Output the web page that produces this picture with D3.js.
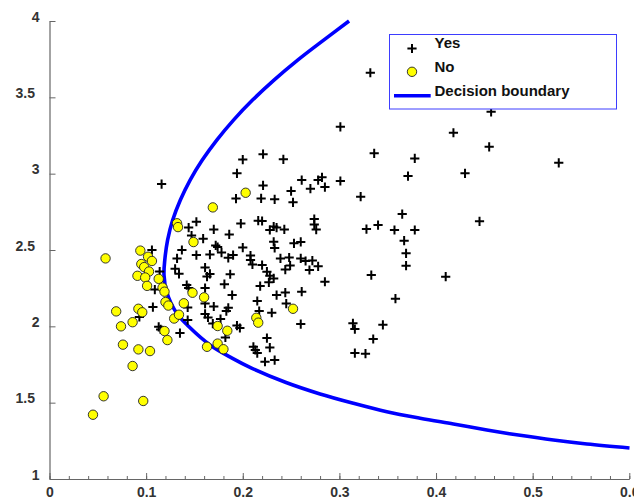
<!DOCTYPE html>
<html>
<head>
<meta charset="utf-8">
<script src="https://cdn.jsdelivr.net/npm/d3@7"></script>
<style>
  html, body { margin: 0; padding: 0; background: #fff; }
  svg { display: block; font-family: "Liberation Sans", Arial, sans-serif; }
</style>
</head>
<body>
<div id="chart"></div>
<script>
// scatter of the two classes with the fitted decision boundary

// "Yes" points (plus markers)
const yesX = [0.332, 0.301, 0.418, 0.455, 0.457, 0.527, 0.336, 0.378, 0.371, 0.430,
  0.322, 0.365, 0.328, 0.340, 0.357, 0.378, 0.367, 0.369, 0.369, 0.445,
  0.410, 0.333, 0.358, 0.314, 0.316, 0.345, 0.335, 0.316, 0.327, 0.285,
  0.116, 0.200, 0.221, 0.242, 0.194, 0.221, 0.261, 0.270, 0.278, 0.282,
  0.285, 0.301, 0.193, 0.219, 0.233, 0.250, 0.252, 0.152, 0.144, 0.147,
  0.159, 0.170, 0.172, 0.174, 0.186, 0.198, 0.200, 0.216, 0.220, 0.228,
  0.232, 0.235, 0.243, 0.274, 0.274, 0.276, 0.232, 0.233, 0.253, 0.260,
  0.106, 0.137, 0.132, 0.152, 0.166, 0.178, 0.185, 0.190, 0.208, 0.208,
  0.210, 0.220, 0.239, 0.248, 0.249, 0.244, 0.260, 0.265, 0.272, 0.278,
  0.269, 0.114, 0.130, 0.134, 0.161, 0.163, 0.166, 0.187, 0.225, 0.228,
  0.232, 0.227, 0.181, 0.218, 0.142, 0.144, 0.109, 0.189, 0.161, 0.161,
  0.170, 0.185, 0.183, 0.161, 0.164, 0.177, 0.169, 0.194, 0.197, 0.182,
  0.215, 0.217, 0.230, 0.235, 0.244, 0.245, 0.261, 0.260, 0.107, 0.093,
  0.113, 0.115, 0.135, 0.143, 0.143, 0.211, 0.213, 0.215, 0.225, 0.228,
  0.223, 0.233];
const yesY = [3.661, 3.307, 3.268, 3.176, 3.405, 3.071, 3.133, 3.100, 2.984, 3.002,
  2.849, 2.735, 2.637, 2.663, 2.631, 2.631, 2.561, 2.478, 2.397, 2.688,
  2.325, 2.336, 2.181, 2.020, 1.982, 2.010, 1.917, 1.825, 1.821, 2.292,
  2.932, 3.092, 3.128, 3.094, 3.002, 2.923, 2.958, 2.902, 2.958, 2.976,
  2.912, 2.952, 2.837, 2.838, 2.832, 2.886, 2.812, 2.685, 2.647, 2.595,
  2.574, 2.635, 2.530, 2.519, 2.602, 2.673, 2.516, 2.692, 2.690, 2.631,
  2.654, 2.647, 2.635, 2.703, 2.667, 2.634, 2.554, 2.513, 2.544, 2.553,
  2.500, 2.500, 2.445, 2.467, 2.470, 2.483, 2.449, 2.467, 2.464, 2.434,
  2.405, 2.401, 2.445, 2.451, 2.398, 2.372, 2.445, 2.428, 2.431, 2.393,
  2.369, 2.359, 2.377, 2.344, 2.385, 2.326, 2.343, 2.341, 2.358, 2.331,
  2.314, 2.288, 2.276, 2.264, 2.270, 2.251, 2.241, 2.205, 2.251, 2.149,
  2.130, 2.121, 2.100, 2.081, 2.058, 2.048, 2.018, 2.005, 1.989, 1.927,
  2.166, 2.100, 2.089, 2.205, 2.221, 2.149, 2.227, 2.015, 2.126, 2.061,
  1.997, 1.980, 1.956, 2.124, 2.041, 1.866, 1.845, 1.825, 1.923, 1.861,
  1.768, 1.779];

// "No" points (yellow circles)
const noX = [0.058, 0.094, 0.102, 0.106, 0.095, 0.098, 0.103, 0.091, 0.099, 0.113,
  0.101, 0.117, 0.119, 0.148, 0.160, 0.120, 0.123, 0.139, 0.069, 0.092,
  0.096, 0.129, 0.134, 0.086, 0.074, 0.119, 0.122, 0.174, 0.184, 0.214,
  0.216, 0.252, 0.076, 0.092, 0.104, 0.163, 0.174, 0.180, 0.086, 0.056,
  0.097, 0.045, 0.132, 0.133, 0.149, 0.169, 0.203];
const noY = [2.445, 2.496, 2.456, 2.428, 2.408, 2.388, 2.359, 2.331, 2.320, 2.311,
  2.265, 2.254, 2.227, 2.220, 2.190, 2.159, 2.136, 2.151, 2.098, 2.115,
  2.092, 2.051, 2.076, 2.027, 2.000, 1.969, 1.910, 2.002, 1.971, 2.056,
  2.024, 2.115, 1.880, 1.849, 1.838, 1.866, 1.887, 1.850, 1.740, 1.542,
  1.511, 1.421, 2.675, 2.650, 2.552, 2.779, 2.875];

// decision boundary, read along the curve from the top end to the bottom right
const boundaryX = [0.310, 0.2837, 0.2568, 0.2323, 0.2101, 0.1904, 0.1731, 0.1581, 0.1455, 0.1354,
  0.1275, 0.1222, 0.1193, 0.1185, 0.1213, 0.1317, 0.1444, 0.1661, 0.1889, 0.2096,
  0.2448, 0.2800, 0.3145, 0.3491, 0.3835, 0.4180, 0.4526, 0.4870, 0.5215, 0.5561, 0.6002];
const boundaryY = [4.000, 3.875, 3.744, 3.613, 3.482, 3.351, 3.220, 3.089, 2.958, 2.827,
  2.696, 2.565, 2.434, 2.336, 2.225, 2.085, 1.997, 1.878, 1.792, 1.725,
  1.632, 1.557, 1.496, 1.441, 1.398, 1.360, 1.321, 1.286, 1.255, 1.229, 1.203];

const xTicks = [0, 0.1, 0.2, 0.3, 0.4, 0.5, 0.6];
const xTickLabels = ["0", "0.1", "0.2", "0.3", "0.4", "0.5", "0.6"];
const yTicks = [1, 1.5, 2, 2.5, 3, 3.5, 4];
const yTickLabels = ["1", "1.5", "2", "2.5", "3", "3.5", "4"];
const legendLabels = ["Yes", "No", "Decision boundary"];

// dimensions
const width = 634, height = 499;
const plotLeft = 49.5, plotRight = 629.3, plotTop = 21, plotBottom = 479;

const svg = d3.select("#chart")
  .append("svg")
    .attr("width", width)
    .attr("height", height);

const x = d3.scaleLinear().domain([0, 0.6]).range([plotLeft, plotRight]);
const y = d3.scaleLinear().domain([1, 4]).range([plotBottom, plotTop]);

const axisColour = "#666";
const labelColour = "#333";

// minor ticks on x (every 0.02)
svg.append("g")
  .attr("transform", `translate(0,${plotBottom})`)
  .call(d3.axisBottom(x)
    .tickValues(d3.range(0, 0.601, 0.02))
    .tickSizeInner(-3)
    .tickSizeOuter(0)
    .tickFormat(""))
  .call(g => g.select(".domain").remove())
  .selectAll("line").attr("stroke", axisColour);

// x axis
const xAxis = svg.append("g")
  .attr("transform", `translate(0,${plotBottom})`)
  .call(d3.axisBottom(x)
    .tickValues(xTicks)
    .tickSizeInner(-6)
    .tickSizeOuter(0)
    .tickPadding(8)
    .tickFormat((d, i) => xTickLabels[i]));

// y axis
const yAxis = svg.append("g")
  .attr("transform", `translate(${plotLeft},0)`)
  .call(d3.axisLeft(y)
    .tickValues(yTicks)
    .tickSizeInner(-6)
    .tickSizeOuter(0)
    .tickPadding(10)
    .tickFormat((d, i) => yTickLabels[i]));

// labels sit a little above their ticks; decimal ones end a bit further left
yAxis.selectAll("text")
  .attr("dy", "0.02em")
  .attr("dx", (d, i) => yTickLabels[i].includes(".") ? -4.5 : 0);

[xAxis, yAxis].forEach(a => {
  a.select(".domain").attr("stroke", axisColour).attr("stroke-width", 1.2);
  a.selectAll(".tick line").attr("stroke", axisColour);
  a.selectAll("text")
    .attr("fill", labelColour)
    .style("font-size", "14px")
    .style("font-weight", "bold");
});

// decision boundary line
svg.append("path")
  .datum(boundaryX.map((d, i) => [d, boundaryY[i]]))
  .attr("fill", "none")
  .attr("stroke", "#0000ff")
  .attr("stroke-width", 3.6)
  .attr("d", d3.line()
    .x(d => x(d[0]))
    .y(d => y(d[1]))
    .curve(d3.curveCatmullRom.alpha(0.5)));

const plusPath = "M-4.6,0H4.6M0,-4.6V4.6";

// yes markers
svg.append("g")
  .selectAll("path")
  .data(yesX.map((d, i) => [d, yesY[i]]))
  .enter()
  .append("path")
    .attr("d", plusPath)
    .attr("transform", d => `translate(${x(d[0])},${y(d[1])})`)
    .attr("stroke", "#000")
    .attr("stroke-width", 2)
    .attr("fill", "none");

// no markers
svg.append("g")
  .selectAll("circle")
  .data(noX.map((d, i) => [d, noY[i]]))
  .enter()
  .append("circle")
    .attr("cx", d => x(d[0]))
    .attr("cy", d => y(d[1]))
    .attr("r", 4.7)
    .attr("fill", "#ffff00")
    .attr("stroke", "#222")
    .attr("stroke-width", 0.9);

// legend
const legend = svg.append("g").attr("class", "legend");

legend.append("rect")
  .attr("x", 389.5)
  .attr("y", 34.5)
  .attr("width", 227)
  .attr("height", 74.5)
  .attr("fill", "#fff")
  .attr("stroke", "#3d3dff")
  .attr("stroke-width", 1);

const legendBaselines = [48.3, 72.4, 96];
legend.selectAll("text")
  .data(legendLabels)
  .enter()
  .append("text")
    .attr("x", 434.5)
    .attr("y", (d, i) => legendBaselines[i])
    .style("font-size", "15px")
    .style("font-weight", "bold")
    .attr("fill", "#111")
    .text(d => d);

legend.append("path")
  .attr("d", plusPath)
  .attr("transform", "translate(412,48.5)")
  .attr("stroke", "#000")
  .attr("stroke-width", 2);

legend.append("circle")
  .attr("cx", 412)
  .attr("cy", 71.8)
  .attr("r", 4.7)
  .attr("fill", "#ffff00")
  .attr("stroke", "#222")
  .attr("stroke-width", 0.9);

legend.append("line")
  .attr("x1", 394)
  .attr("x2", 430.7)
  .attr("y1", 95.7)
  .attr("y2", 95.7)
  .attr("stroke", "#0000ff")
  .attr("stroke-width", 3.6);
</script>
</body>
</html>
